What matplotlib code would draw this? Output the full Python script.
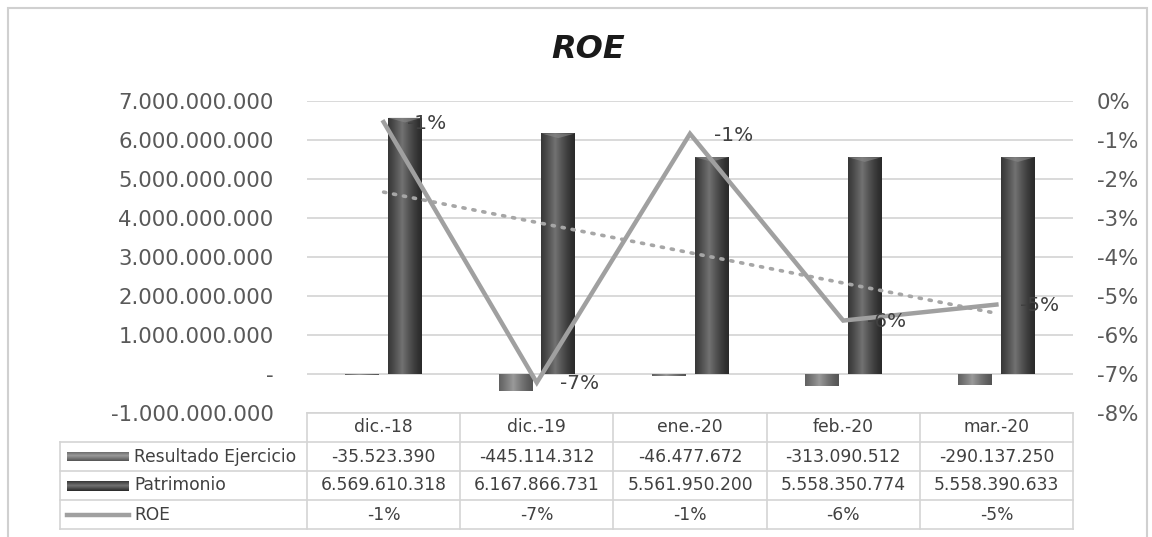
import matplotlib
matplotlib.use("Agg")
import matplotlib.pyplot as plt
import numpy as np
from matplotlib.ticker import FuncFormatter, MultipleLocator
from matplotlib.patches import Rectangle

# data
categories = ["dic.-18", "dic.-19", "ene.-20", "feb.-20", "mar.-20"]
resultado = [-35523390, -445114312, -46477672, -313090512, -290137250]
patrimonio = [6569610318, 6167866731, 5561950200, 5558350774, 5558390633]
roe = [-0.54, -7.22, -0.84, -5.63, -5.22]  # percent
series_names = ["Resultado Ejercicio", "Patrimonio", "ROE"]

W, H = 1152, 537
TXT = "#595959"
GRID = "#d9d9d9"


def fx(px):
    return px / W


def fy(py):
    return 1 - py / H


def fmt_num(v):
    return f"{v:,}".replace(",", ".")


def gradient_bar(ax, patch, dark, light, z):
    x0, y0 = patch.get_x(), patch.get_y()
    x1, y1 = x0 + patch.get_width(), y0 + patch.get_height()
    t = np.linspace(0, 1, 64)
    prof = np.clip(1 - np.abs(t - 0.42) / 0.58, 0, 1) ** 1.3
    c0 = np.array(matplotlib.colors.to_rgb(dark))
    c1 = np.array(matplotlib.colors.to_rgb(light))
    img = c0[None, None, :] + (c1 - c0)[None, None, :] * prof[None, :, None]
    im = ax.imshow(img, extent=[x0, x1, min(y0, y1), max(y0, y1)],
                   aspect="auto", zorder=z, interpolation="bilinear")
    im.set_clip_path(patch)


def main():
    fig = plt.figure(figsize=(W / 100, H / 100), dpi=100)
    fig.patch.set_facecolor("white")

    # outer chart border
    fig.add_artist(Rectangle((fx(8), fy(545)), fx(1147 - 8), fy(8) - fy(545),
                             transform=fig.transFigure, fill=False,
                             edgecolor="#d0d0d0", lw=1.5))

    left, right, top, bot = 307, 1073, 101, 413
    ax = fig.add_axes([fx(left), fy(bot), fx(right - left), fy(top) - fy(bot)])
    x = np.arange(len(categories))

    b1 = ax.bar(x - 0.14, resultado, width=0.22, color="none", zorder=2)
    b2 = ax.bar(x + 0.14, patrimonio, width=0.22, color="none", zorder=2)
    for p in b1:
        gradient_bar(ax, p, "#555555", "#9a9a9a", 2)
    for p in b2:
        gradient_bar(ax, p, "#2a2a2a", "#727272", 2)
        # cylinder top notch
        xc = p.get_x() + p.get_width() / 2
        h = p.get_height()
        ax.fill([p.get_x(), xc, p.get_x() + p.get_width()],
                [h, h - 0.12e9, h], color="#8a8a8a", alpha=0.6, zorder=3, lw=0)

    ax.set_xlim(-0.5, len(categories) - 0.5)
    ax.set_ylim(-1e9, 7e9)
    ax.yaxis.set_major_locator(MultipleLocator(1e9))
    ax.yaxis.set_major_formatter(FuncFormatter(
        lambda v, p: "-" if abs(v) < 1 else fmt_num(int(round(v)))))
    ax.grid(axis="y", color=GRID, lw=1.4, zorder=0)
    ax.set_axisbelow(True)
    ax.set_xticks([])
    for s in ax.spines.values():
        s.set_visible(False)
    ax.tick_params(axis="y", length=0, pad=24, labelsize=15.3, labelcolor=TXT)

    ax2 = ax.twinx()
    ax2.set_ylim(-8, 0)
    ax2.yaxis.set_major_locator(MultipleLocator(1))
    ax2.yaxis.set_major_formatter(FuncFormatter(lambda v, p: f"{int(round(v))}%"))
    for s in ax2.spines.values():
        s.set_visible(False)
    ax2.tick_params(axis="y", length=0, pad=17, labelsize=15.3, labelcolor=TXT)

    # trendline (linear) on ROE
    k, b = np.polyfit(x, roe, 1)
    ax2.plot(x, k * x + b, color="#a6a6a6", lw=2.6, ls=(0, (0.6, 2.2)),
             dash_capstyle="round", zorder=4)
    ax2.plot(x, roe, color="#a0a0a0", lw=3.2, zorder=5, solid_joinstyle="miter")
    for xi, v in zip(x, roe):
        ax2.annotate(f"{round(v)}%", (xi, v), xytext=(17, -1),
                     textcoords="offset points", ha="left", va="center",
                     fontsize=14.5, color="#404040", zorder=6)

    fig.text(fx(588), fy(50), "ROE", ha="center", va="center", fontsize=23,
             fontweight="bold", fontstyle="italic", color="#1a1a1a")

    # data table
    col_edges = [left + i * (right - left) / len(categories)
                 for i in range(len(categories) + 1)]
    row_edges = [413, 442, 471, 500, 529]
    tleft = 60
    lc = "#d4d4d4"
    lw = 1.2

    def hline(y, x0, x1):
        fig.add_artist(plt.Line2D([fx(x0), fx(x1)], [fy(y), fy(y)],
                                  color=lc, lw=lw, transform=fig.transFigure))

    def vline(xp, y0, y1):
        fig.add_artist(plt.Line2D([fx(xp), fx(xp)], [fy(y0), fy(y1)],
                                  color=lc, lw=lw, transform=fig.transFigure))

    hline(row_edges[0], col_edges[0], col_edges[-1])
    for y in row_edges[1:]:
        hline(y, tleft, col_edges[-1])
    vline(tleft, row_edges[1], row_edges[-1])
    for xp in col_edges:
        vline(xp, row_edges[0], row_edges[-1])

    tfs = 12.3
    tcol = "#404040"
    for i, c in enumerate(categories):
        xc = (col_edges[i] + col_edges[i + 1]) / 2
        fig.text(fx(xc), fy((row_edges[0] + row_edges[1]) / 2), c,
                 ha="center", va="center", fontsize=tfs, color=tcol)
        vals = [fmt_num(resultado[i]), fmt_num(patrimonio[i]), f"{round(roe[i])}%"]
        for r, s in enumerate(vals):
            yc = (row_edges[r + 1] + row_edges[r + 2]) / 2
            fig.text(fx(xc), fy(yc), s, ha="center", va="center",
                     fontsize=tfs, color=tcol)

    # legend keys inside the table
    key_colors = [("#555555", "#9a9a9a"), ("#2a2a2a", "#727272")]
    for r, name in enumerate(series_names):
        yc = (row_edges[r + 1] + row_edges[r + 2]) / 2
        if r < 2:
            dark, light = key_colors[r]
            kax = fig.add_axes([fx(67), fy(yc + 5), fx(62), fy(yc - 5) - fy(yc + 5)])
            t = np.linspace(0, 1, 32)
            prof = np.clip(1 - np.abs(t - 0.45) / 0.55, 0, 1)
            c0 = np.array(matplotlib.colors.to_rgb(dark))
            c1 = np.array(matplotlib.colors.to_rgb(light))
            img = c0[None, None, :] + (c1 - c0)[None, None, :] * prof[:, None, None]
            kax.imshow(np.repeat(img, 4, axis=1), aspect="auto")
            kax.axis("off")
        else:
            fig.add_artist(plt.Line2D([fx(67), fx(129)], [fy(yc), fy(yc)],
                                      color="#a0a0a0", lw=3.2,
                                      transform=fig.transFigure))
        fig.text(fx(134), fy(yc), name, ha="left", va="center",
                 fontsize=tfs, color=tcol)

    fig.savefig("out.png", dpi=100)


if __name__ == "__main__":
    main()
